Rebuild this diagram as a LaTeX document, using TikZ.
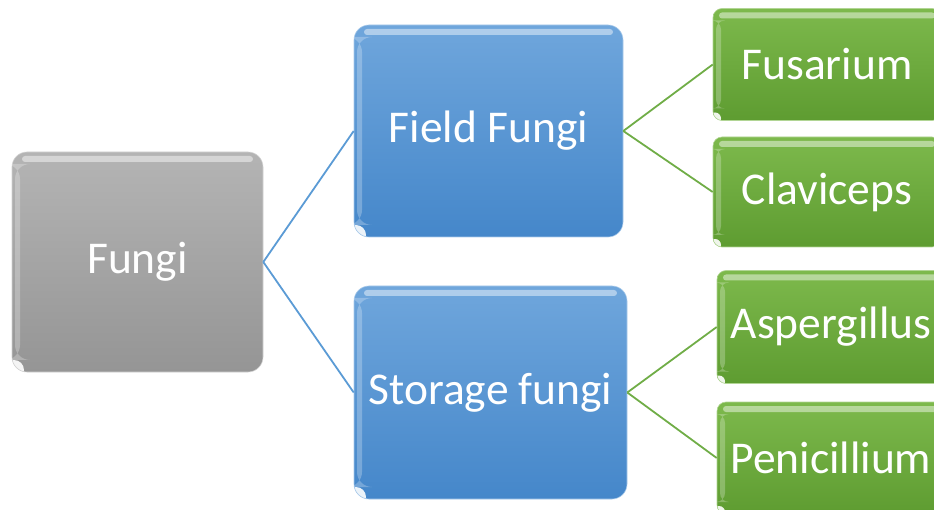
\documentclass[tikz,border=0pt]{standalone}
\usepackage{fontspec}
\setmainfont{Carlito}
\definecolor{grayT}{HTML}{B4B4B4}
\definecolor{grayB}{HTML}{959595}
\definecolor{blueT}{HTML}{6FA6DC}
\definecolor{blueB}{HTML}{4587CA}
\definecolor{greenT}{HTML}{7DB94C}
\definecolor{greenB}{HTML}{5E9C31}
\definecolor{blueLine}{HTML}{5B9BD5}
\definecolor{greenLine}{HTML}{70AD47}
\begin{document}
\begin{tikzpicture}[x=1pt,y=-1pt,
  gloss/.style={path picture={
    \fill[white,opacity=0.45,rounded corners=3pt]
      ([xshift=#1pt,yshift=-4pt]path picture bounding box.north west) rectangle
      ([xshift=-#1pt,yshift=-10pt]path picture bounding box.north east);
    \fill[white,opacity=0.25]
      ([xshift=3pt,yshift=-12pt]path picture bounding box.north west) rectangle
      ([xshift=8pt,yshift=12pt]path picture bounding box.south west);
    \fill[white,opacity=0.9]
      ([xshift=2pt,yshift=2pt]path picture bounding box.south west) circle (#1pt);
  }},
  boxbase/.style={text=white, inner sep=0pt, align=center,
    font=\fontsize{45.5}{52}\selectfont},
  graybox/.style={boxbase, rounded corners=15pt, top color=grayT, bottom color=grayB,
    draw=grayT!60!white, line width=0.6pt, gloss=10},
  bluebox/.style={boxbase, rounded corners=15pt, top color=blueT, bottom color=blueB,
    draw=blueT!60!white, line width=0.6pt, gloss=10},
  greenbox/.style={boxbase, rounded corners=9pt, top color=greenT, bottom color=greenB,
    draw=greenT!60!white, line width=0.6pt, gloss=6},
  blink/.style={draw=blueLine, line width=1.8pt},
  glink/.style={draw=greenLine, line width=1.8pt}
]
\useasboundingbox (0,0) rectangle (934,510);
\clip (0,0) rectangle (934,510);

\node[graybox, minimum width=251pt, minimum height=220pt] (fungi) at (137.5,262) {Fungi};
\node[bluebox, minimum width=269pt, minimum height=212pt] (field) at (488.5,131) {Field Fungi};
\node[bluebox, minimum width=273pt, minimum height=213pt] (storage) at (490.5,392.5) {Storage fungi};

\node[greenbox, minimum width=228pt, minimum height=112pt] (fus) at (827,64.5) {Fusarium};
\node[greenbox, minimum width=228pt, minimum height=110pt] (clav) at (827,192) {Claviceps};
\node[greenbox, minimum width=228pt, minimum height=113pt] (asp) at (831,327) {Aspergillus};
\node[greenbox, minimum width=228pt, minimum height=112pt] (pen) at (831,458) {Penicillium};

\draw[blink] (fungi.east) -- (field.west);
\draw[blink] (fungi.east) -- (storage.west);
\draw[glink] (field.east) -- (fus.west);
\draw[glink] (field.east) -- (clav.west);
\draw[glink] (storage.east) -- (asp.west);
\draw[glink] (storage.east) -- (pen.west);
\end{tikzpicture}
\end{document}
